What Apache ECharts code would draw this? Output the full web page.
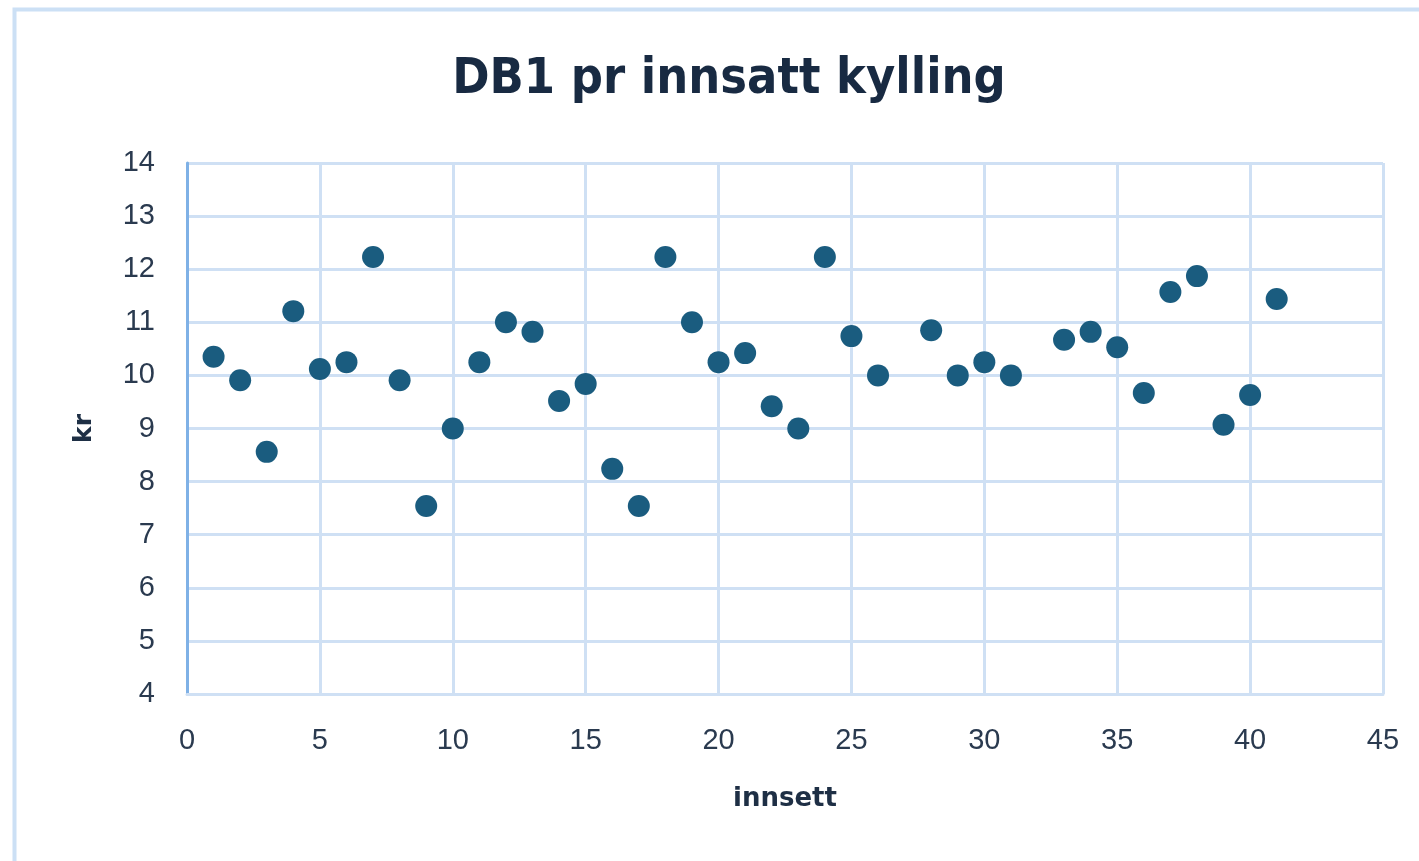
<!DOCTYPE html>
<html><head><meta charset="utf-8">
<script src="https://cdn.jsdelivr.net/npm/echarts@6/dist/echarts.min.js"></script>
<style>html,body{margin:0;padding:0;background:#fff}#c{width:1419px;height:861px}</style>
</head><body><div id="c"></div>
<script>
const titleText = 'DB1 pr innsatt kylling';
const xName = 'innsett';
const yName = 'kr';
const innsett = [1,2,3,4,5,6,7,8,9,10,11,12,13,14,15,16,17,18,19,20,21,22,23,24,25,26,28,29,30,31,33,34,35,36,37,38,39,40,41];
const kr = [10.35,9.91,8.56,11.21,10.12,10.25,12.23,9.91,7.54,9.0,10.25,11.0,10.82,9.52,9.84,8.24,7.54,12.23,11.0,10.25,10.42,9.42,9.0,12.23,10.74,10.0,10.85,10.0,10.25,10.0,10.67,10.82,10.53,9.67,11.57,11.87,9.07,9.63,11.44];
const xMin = 0, xMax = 45, xStep = 5;
const yMin = 4, yMax = 14, yStep = 1;

const points = innsett.map((x, i) => [x, kr[i]]);
const textColor = '#2a3a4f';
const gridColor = '#cfe0f4';
const chart = echarts.init(document.getElementById('c'), null, {renderer: 'canvas'});
chart.setOption({
  backgroundColor: '#fff',
  animation: false,
  graphic: [{
    type: 'rect', left: 12, top: 7, shape: {width: 1430, height: 900},
    style: {fill: 'none', stroke: '#cce0f5', lineWidth: 4}, silent: true
  }, {
    type: 'text', x: 729, y: 55,
    style: {text: titleText, textAlign: 'center', textVerticalAlign: 'top', fontFamily: '"Liberation Sans Narrow", "DejaVu Sans Condensed", "DejaVu Sans", sans-serif', fontWeight: 'bold', fontSize: 50, fill: '#182a42'},
    silent: true
  }],
  grid: {left: 187, right: 1419 - 1383, top: 163, bottom: 861 - 694, containLabel: false},
  xAxis: {
    type: 'value', min: xMin, max: xMax, interval: xStep,
    name: xName, nameLocation: 'middle', nameGap: 92,
    nameTextStyle: {fontFamily: '"DejaVu Sans", sans-serif', fontWeight: 'bold', fontSize: 26, color: '#1e2f45'},
    axisLine: {show: true, lineStyle: {color: gridColor, width: 3}},
    axisTick: {show: false},
    axisLabel: {fontFamily: 'Liberation Sans, Arial, sans-serif', fontSize: 29, color: textColor, margin: 32},
    splitLine: {show: true, lineStyle: {color: gridColor, width: 3}}
  },
  yAxis: {
    type: 'value', min: yMin, max: yMax, interval: yStep,
    name: yName, nameLocation: 'middle', nameGap: 90, nameRotate: 90,
    nameTextStyle: {fontFamily: '"DejaVu Sans", sans-serif', fontWeight: 'bold', fontSize: 25, color: '#1e2f45'},
    axisLine: {show: true, lineStyle: {color: '#7fb1e6', width: 3}},
    axisTick: {show: false},
    axisLabel: {fontFamily: 'Liberation Sans, Arial, sans-serif', fontSize: 29, color: textColor, margin: 32},
    splitLine: {show: true, lineStyle: {color: gridColor, width: 3}}
  },
  series: [{
    type: 'scatter', data: points, symbol: 'circle', symbolSize: 22,
    itemStyle: {color: '#1a5c7f', opacity: 1}
  }]
});
</script></body></html>
